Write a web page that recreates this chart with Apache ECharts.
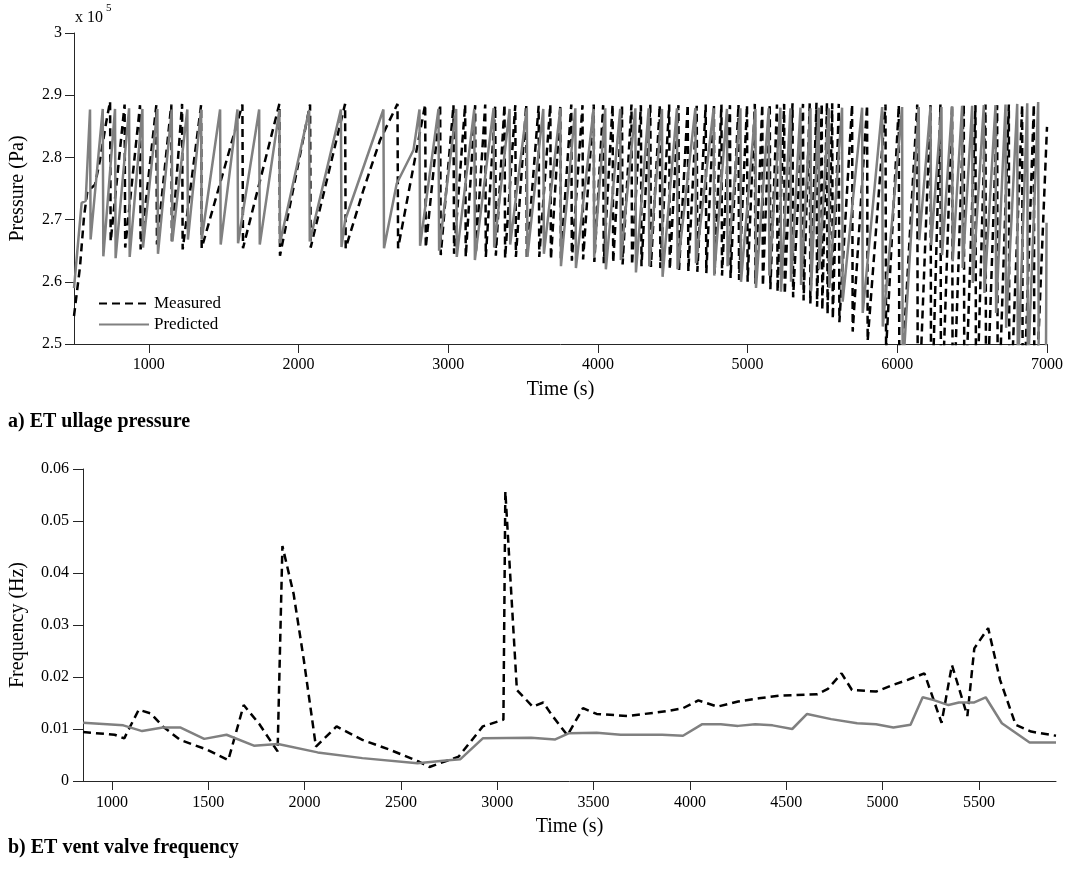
<!DOCTYPE html>
<html>
<head>
<meta charset="utf-8">
<title>ET ullage pressure and vent valve frequency</title>
<script src="https://cdn.jsdelivr.net/npm/echarts@6.0.0/dist/echarts.min.js"></script>
<style>
  html, body { margin: 0; padding: 0; background: #fff; }
  #main { width: 1071px; height: 870px; }
</style>
</head>
<body>
<div id="main"></div>
<script>
// tick labels
const pressureTimeTicks = [1000, 2000, 3000, 4000, 5000, 6000, 7000];
const freqTimeTicks = [1000, 1500, 2000, 2500, 3000, 3500, 4000, 4500, 5000, 5500];

// a) ullage pressure: [time (s), pressure (x 10^5 Pa)]
const measuredPressure = [
  [500,2.545],[540,2.624],[567,2.705],[589,2.745],[640,2.756],[674,2.796],[714,2.855],[741,2.890],[745,2.665],
  [838,2.885],[842,2.655],[941,2.884],[945,2.652],[1050,2.884],[1054,2.660],[1150,2.885],[1154,2.665],
  [1222,2.886],[1226,2.652],[1349,2.884],[1353,2.654],[1625,2.885],[1629,2.654],[1872,2.886],[1876,2.642],
  [2077,2.885],[2081,2.655],[2311,2.886],[2315,2.654],[2434,2.748],[2545,2.828],[2661,2.886],[2665,2.654],
  [2846,2.885],[2850,2.655],[2946,2.885],[2950,2.643],[3035,2.884],[3039,2.645],[3113,2.885],[3117,2.640],
  [3180,2.884],[3184,2.645],[3247,2.885],[3251,2.640],[3314,2.883],[3318,2.642],[3376,2.885],[3380,2.638],
  [3448,2.884],[3452,2.640],[3521,2.885],[3525,2.637],[3604,2.883],[3608,2.640],[3682,2.885],[3686,2.636],
  [3749,2.884],[3753,2.638],[3822,2.885],[3826,2.634],[3897,2.884],[3901,2.636],[3972,2.885],[3976,2.632],
  [4035,2.884],[4039,2.630],[4098,2.885],[4102,2.631],[4161,2.883],[4165,2.628],[4224,2.885],[4228,2.627],
  [4287,2.884],[4291,2.625],[4350,2.885],[4354,2.624],[4413,2.884],[4417,2.622],[4476,2.885],[4480,2.620],
  [4538,2.884],[4542,2.619],[4600,2.885],[4604,2.617],[4660,2.883],[4664,2.616],[4720,2.885],[4724,2.614],
  [4775,2.884],[4779,2.612],[4825,2.885],[4829,2.610],[4882,2.884],[4886,2.606],[4939,2.885],[4943,2.603],
  [4996,2.884],[5000,2.600],[5048,2.886],[5052,2.597],[5098,2.885],[5102,2.593],[5148,2.886],[5152,2.588],
  [5196,2.885],[5200,2.584],[5244,2.886],[5248,2.580],[5300,2.887],[5304,2.575],[5370,2.886],[5374,2.570],
  [5415,2.887],[5419,2.565],[5460,2.888],[5464,2.560],[5495,2.887],[5499,2.555],[5530,2.888],[5534,2.548],
  [5565,2.887],[5569,2.540],[5609,2.886],[5613,2.535],[5698,2.885],[5702,2.520],[5798,2.884],[5802,2.505],
  [5921,2.885],[5925,2.490],[6010,2.884],[6014,2.380],[6133,2.885],[6137,2.350],[6222,2.884],[6226,2.350],
  [6288,2.885],[6292,2.350],[6366,2.884],[6370,2.350],[6444,2.885],[6448,2.350],[6522,2.884],[6526,2.350],
  [6589,2.885],[6593,2.350],[6667,2.884],[6671,2.350],[6745,2.885],[6749,2.350],[6834,2.884],[6838,2.350],
  [6912,2.885],[6916,2.350],[7000,2.849]
];
const predictedPressure = [
  [500,2.590],[551,2.727],[578,2.730],[607,2.877],[611,2.668],
  [692,2.878],[696,2.641],[774,2.878],[778,2.638],[868,2.879],[872,2.640],[957,2.878],[961,2.655],
  [1057,2.878],[1061,2.645],[1153,2.877],[1157,2.665],[1257,2.877],[1261,2.668],[1349,2.877],[1353,2.668],
  [1476,2.877],[1480,2.660],[1592,2.877],[1596,2.662],[1737,2.877],[1741,2.660],[1872,2.876],[1876,2.662],
  [2071,2.876],[2075,2.665],[2283,2.877],[2287,2.656],[2311,2.699],[2567,2.877],[2571,2.654],[2656,2.758],
  [2768,2.812],[2808,2.877],[2812,2.658],[2935,2.878],[2939,2.650],[3053,2.878],[3057,2.640],
  [3174,2.878],[3178,2.635],[3303,2.879],[3307,2.655],[3410,2.878],[3414,2.660],[3525,2.879],[3529,2.640],
  [3635,2.878],[3639,2.645],[3749,2.879],[3753,2.625],[3849,2.879],[3853,2.622],[3971,2.878],[3975,2.640],
  [4049,2.879],[4053,2.620],[4149,2.878],[4153,2.635],[4250,2.879],[4254,2.615],[4339,2.879],[4343,2.625],
  [4428,2.878],[4432,2.608],[4528,2.879],[4532,2.620],[4651,2.879],[4655,2.630],[4773,2.879],[4777,2.610],
  [4862,2.878],[4866,2.625],[4952,2.879],[4956,2.600],[5052,2.878],[5056,2.590],[5141,2.879],[5145,2.610],
  [5219,2.880],[5223,2.584],[5286,2.879],[5290,2.600],[5353,2.880],[5357,2.595],[5420,2.879],[5424,2.585],
  [5475,2.880],[5479,2.620],[5542,2.879],[5546,2.590],[5631,2.880],[5635,2.568],[5765,2.880],[5769,2.550],
  [5899,2.881],[5903,2.528],[6032,2.881],[6036,2.450],[6143,2.881],[6147,2.667],[6222,2.882],[6226,2.659],
  [6295,2.881],[6299,2.643],[6366,2.882],[6370,2.633],[6433,2.883],[6437,2.622],[6500,2.883],[6504,2.598],
  [6578,2.884],[6582,2.582],[6656,2.884],[6660,2.550],[6723,2.885],[6727,2.526],[6801,2.886],[6805,2.450],
  [6868,2.887],[6872,2.450],[6941,2.889],[6945,2.400],[6992,2.420],[6997,2.695]
];

// b) vent valve frequency: [time (s), frequency (Hz)]
const measuredFrequency = [
  [850,0.0094],[1014,0.0089],[1064,0.0082],[1139,0.0137],[1202,0.0130],[1264,0.0105],[1354,0.0079],
  [1496,0.0060],[1604,0.0040],[1684,0.0146],[1764,0.0110],[1860,0.0057],[1885,0.0452],[1943,0.0360],
  [1996,0.0233],[2059,0.0066],[2166,0.0105],[2300,0.0079],[2443,0.0060],[2595,0.0037],[2648,0.0027],
  [2800,0.0047],[2925,0.0105],[3032,0.0118],[3042,0.0557],[3102,0.0175],[3184,0.0143],[3239,0.0151],
  [3283,0.0127],[3364,0.0088],[3445,0.0140],[3516,0.0129],[3677,0.0125],[3874,0.0134],[3964,0.0140],
  [4044,0.0155],[4143,0.0143],[4250,0.0153],[4358,0.0159],[4465,0.0164],[4662,0.0167],[4716,0.0177],
  [4787,0.0207],[4841,0.0175],[4966,0.0172],[5056,0.0185],[5127,0.0194],[5217,0.0207],[5306,0.0112],
  [5360,0.0223],[5440,0.0125],[5476,0.0255],[5548,0.0294],[5610,0.0194],[5691,0.0108],[5771,0.0095],
  [5900,0.0087]
];
const predictedFrequency = [
  [850,0.0112],[1059,0.0107],[1157,0.0096],[1264,0.0103],[1354,0.0103],[1479,0.0081],[1595,0.0089],
  [1737,0.0068],[1862,0.0071],[2068,0.0055],[2300,0.0044],[2586,0.0034],[2746,0.0040],[2809,0.0042],
  [2925,0.0082],[3176,0.0083],[3301,0.0080],[3373,0.0092],[3516,0.0093],[3641,0.0089],[3856,0.0089],
  [3964,0.0087],[4062,0.0109],[4160,0.0109],[4250,0.0106],[4339,0.0109],[4429,0.0107],[4531,0.0100],
  [4608,0.0129],[4733,0.0119],[4868,0.0111],[4966,0.0109],[5056,0.0103],[5145,0.0108],[5208,0.0161],
  [5262,0.0156],[5342,0.0146],[5396,0.0151],[5476,0.0151],[5535,0.0161],[5619,0.0111],[5763,0.0074],
  [5900,0.0074]
];

const serif = '"Liberation Serif", "DejaVu Serif", serif';
const axisColor = '#262626';
const measuredStyle = { color: '#000', width: 2.5, type: [8, 5] };
const predictedStyle = { color: '#808080', width: 2.5, type: 'solid' };

const chart = echarts.init(document.getElementById('main'));

const xAxisBase = {
  type: 'value',
  splitLine: { show: false },
  axisLine: { lineStyle: { color: axisColor, width: 1 } },
  axisTick: { length: 9, lineStyle: { color: axisColor } },
  axisLabel: { fontFamily: serif, fontSize: 16, color: '#000', margin: 13, formatter: v => String(v) },
  name: 'Time (s)',
  nameLocation: 'middle',
  nameGap: 36,
  nameTextStyle: { fontFamily: serif, fontSize: 20, color: '#000' }
};

const option = {
  animation: false,
  backgroundColor: '#fff',
  grid: [
    { left: 74, top: 33, width: 973, height: 311 },
    { left: 82, top: 469, width: 974, height: 312 }
  ],
  xAxis: [
    Object.assign({}, xAxisBase, {
      gridIndex: 0, min: 500, max: 7000,
      axisTick: Object.assign({}, xAxisBase.axisTick, { customValues: pressureTimeTicks }),
      axisLabel: Object.assign({}, xAxisBase.axisLabel, { customValues: pressureTimeTicks })
    }),
    Object.assign({}, xAxisBase, {
      gridIndex: 1, min: 850, max: 5900,
      axisTick: Object.assign({}, xAxisBase.axisTick, { customValues: freqTimeTicks }),
      axisLabel: Object.assign({}, xAxisBase.axisLabel, { customValues: freqTimeTicks, margin: 14 })
    })
  ],
  yAxis: [
    {
      type: 'value', gridIndex: 0, min: 2.5, max: 3, interval: 0.1,
      splitLine: { show: false },
      axisLine: { show: true, lineStyle: { color: axisColor, width: 1 } },
      axisTick: { show: true, length: 9, lineStyle: { color: axisColor } },
      axisLabel: {
        fontFamily: serif, fontSize: 16, color: '#000', margin: 12,
        formatter: v => String(+v.toFixed(1))
      },
      name: 'Pressure (Pa)', nameLocation: 'middle', nameGap: 46, nameRotate: 90,
      nameTextStyle: { fontFamily: serif, fontSize: 20, color: '#000' }
    },
    {
      type: 'value', gridIndex: 1, min: 0, max: 0.06, interval: 0.01,
      splitLine: { show: false },
      axisLine: { show: true, lineStyle: { color: axisColor, width: 1 } },
      axisTick: { show: true, length: 10, lineStyle: { color: axisColor } },
      axisLabel: {
        fontFamily: serif, fontSize: 16, color: '#000', margin: 14,
        formatter: v => String(+v.toFixed(2))
      },
      name: 'Frequency (Hz)', nameLocation: 'middle', nameGap: 55, nameRotate: 90,
      nameTextStyle: { fontFamily: serif, fontSize: 20, color: '#000' }
    }
  ],
  legend: {
    data: ['Measured', 'Predicted'],
    orient: 'vertical',
    left: 93, top: 290,
    itemWidth: 50, itemHeight: 14, itemGap: 4,
    selectedMode: false,
    itemStyle: { opacity: 0 },
    textStyle: { fontFamily: serif, fontSize: 17, color: '#000' }
  },
  graphic: [
    { type: 'text', left: 75, top: 10, style: { text: 'x 10', fontFamily: serif, fontSize: 16, fill: '#000' } },
    { type: 'text', left: 106, top: 3, style: { text: '5', fontFamily: serif, fontSize: 11, fill: '#000' } },
    { type: 'text', left: 8, top: 412, style: { text: 'a) ET ullage pressure', fontFamily: serif, fontSize: 20, fontWeight: 'bold', fill: '#000' } },
    { type: 'text', left: 8, top: 838, style: { text: 'b) ET vent valve frequency', fontFamily: serif, fontSize: 20, fontWeight: 'bold', fill: '#000' } }
  ],
  series: [
    { name: 'Measured', type: 'line', xAxisIndex: 0, yAxisIndex: 0, data: measuredPressure,
      symbol: 'none', lineStyle: measuredStyle, itemStyle: { color: '#000' }, silent: true },
    { name: 'Predicted', type: 'line', xAxisIndex: 0, yAxisIndex: 0, data: predictedPressure,
      symbol: 'none', lineStyle: predictedStyle, itemStyle: { color: '#808080' }, silent: true },
    { name: 'Measured', type: 'line', xAxisIndex: 1, yAxisIndex: 1, data: measuredFrequency,
      symbol: 'none', lineStyle: measuredStyle, itemStyle: { color: '#000' }, silent: true },
    { name: 'Predicted', type: 'line', xAxisIndex: 1, yAxisIndex: 1, data: predictedFrequency,
      symbol: 'none', lineStyle: predictedStyle, itemStyle: { color: '#808080' }, silent: true }
  ]
};

chart.setOption(option);
</script>
</body>
</html>
